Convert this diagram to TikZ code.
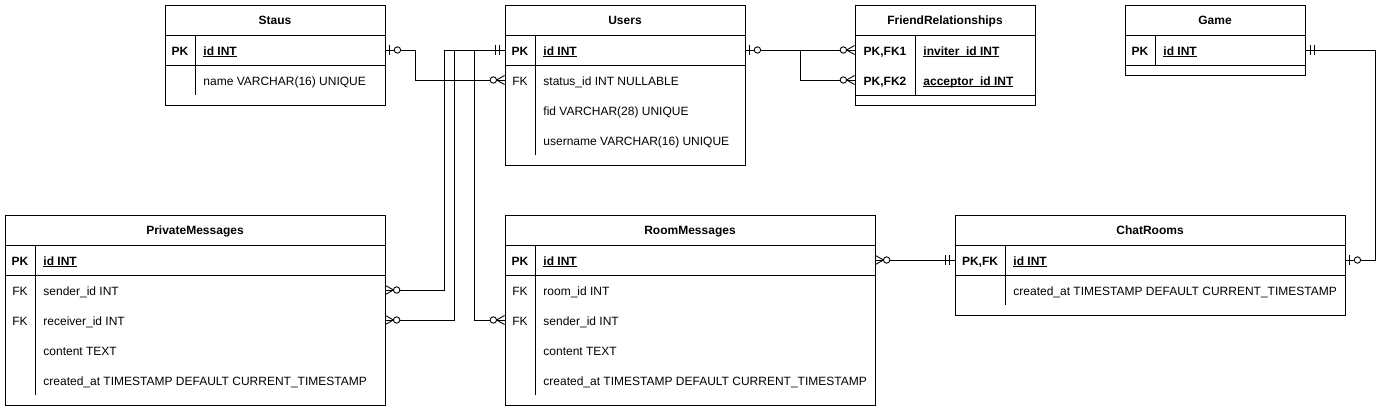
\documentclass[tikz,border=0pt]{standalone}
\usepackage{fontspec}
\setmainfont{Liberation Sans}
\usetikzlibrary{arrows.meta}

% underlined key field
\newcommand\keyline[1]{\setbox0\hbox{#1}\rlap{\rule[-2.3pt]{\wd0}{0.9pt}}\box0}

\begin{document}
\begin{tikzpicture}[x=1pt,y=-1pt,line width=0.9pt]

% Stili per tabelle e cardinalita
\tikzset{
  tablehead/.style={minimum height=30pt, inner sep=0pt, text height=10pt, text depth=0pt, font=\fontsize{12}{14}\selectfont\bfseries},
  keycell/.style={inner sep=0pt, text height=10.2pt, text depth=0pt, font=\fontsize{12}{14}\selectfont},
  field/.style={keycell, anchor=west},
  pkey/.style={font=\fontsize{12}{14}\selectfont\bfseries},
  mandone/.pic={\draw (5,-5) -- (5,5) (9,-5) -- (9,5);},
  zeroone/.pic={\draw (4,-5) -- (4,5); \draw[fill=white] (12,0) circle[radius=3.2pt];},
  zeromany/.pic={\draw (0,-4.5) -- (8,0) -- (0,4.5); \draw[fill=white] (11.2,0) circle[radius=3.2pt];}
}

\useasboundingbox (0,0) rectangle (1390,411);

% --- Staus ---
\node[tablehead, minimum width=220pt] (staus) at (275,20) {Staus};
\draw (165,5) rectangle (385,105) (165,35) -- (385,35) (165,65) -- (385,65) (195,35) -- (195,95);
\node[keycell, pkey] (staus-pk) at (180,50) {PK};
\node[field, pkey] (staus-id) at (203,50) {\keyline{id INT}};
\node[field] (staus-name) at (203,80) {name VARCHAR(16) UNIQUE};

% --- Users ---
\node[tablehead, minimum width=240pt] (users) at (625,20) {Users};
\draw (505,5) rectangle (745,165) (505,35) -- (745,35) (505,65) -- (745,65) (535,35) -- (535,155);
\node[keycell, pkey] (users-pk) at (520,50) {PK};
\node[keycell] (users-fk) at (520,80) {FK};
\node[field, pkey] (users-id) at (543,50) {\keyline{id INT}};
\node[field] (users-status) at (543,80) {status\_id INT NULLABLE};
\node[field] (users-fid) at (543,110) {fid VARCHAR(28) UNIQUE};
\node[field] (users-name) at (543,140) {username VARCHAR(16) UNIQUE};

% --- FriendRelationships ---
\node[tablehead, minimum width=180pt] (fr) at (945,20) {FriendRelationships};
\draw (855,5) rectangle (1035,105) (855,35) -- (1035,35) (855,95) -- (1035,95) (915,35) -- (915,95);
\node[keycell, pkey] (fr-k1) at (885,50) {PK,FK1};
\node[keycell, pkey] (fr-k2) at (885,80) {PK,FK2};
\node[field, pkey] (fr-inviter) at (923,50) {\keyline{inviter\_id INT}};
\node[field, pkey] (fr-acceptor) at (923,80) {\keyline{acceptor\_id INT}};

% --- Game ---
\node[tablehead, minimum width=180pt] (game) at (1215,20) {Game};
\draw (1125,5) rectangle (1305,75) (1125,35) -- (1305,35) (1125,65) -- (1305,65) (1155,35) -- (1155,65);
\node[keycell, pkey] (game-pk) at (1140,50) {PK};
\node[field, pkey] (game-id) at (1163,50) {\keyline{id INT}};

% --- PrivateMessages ---
\node[tablehead, minimum width=380pt] (pm) at (195,230) {PrivateMessages};
\draw (5,215) rectangle (385,405) (5,245) -- (385,245) (5,275) -- (385,275) (35,245) -- (35,395);
\node[keycell, pkey] (pm-pk) at (20,260) {PK};
\node[keycell] (pm-fk1) at (20,290) {FK};
\node[keycell] (pm-fk2) at (20,320) {FK};
\node[field, pkey] (pm-id) at (43,260) {\keyline{id INT}};
\node[field] (pm-sender) at (43,290) {sender\_id INT};
\node[field] (pm-receiver) at (43,320) {receiver\_id INT};
\node[field] (pm-content) at (43,350) {content TEXT};
\node[field] (pm-created) at (43,380) {created\_at TIMESTAMP DEFAULT CURRENT\_TIMESTAMP};

% --- RoomMessages ---
\node[tablehead, minimum width=370pt] (rm) at (690,230) {RoomMessages};
\draw (505,215) rectangle (875,405) (505,245) -- (875,245) (505,275) -- (875,275) (535,245) -- (535,395);
\node[keycell, pkey] (rm-pk) at (520,260) {PK};
\node[keycell] (rm-fk1) at (520,290) {FK};
\node[keycell] (rm-fk2) at (520,320) {FK};
\node[field, pkey] (rm-id) at (543,260) {\keyline{id INT}};
\node[field] (rm-room) at (543,290) {room\_id INT};
\node[field] (rm-sender) at (543,320) {sender\_id INT};
\node[field] (rm-content) at (543,350) {content TEXT};
\node[field] (rm-created) at (543,380) {created\_at TIMESTAMP DEFAULT CURRENT\_TIMESTAMP};

% --- ChatRooms ---
\node[tablehead, minimum width=390pt] (chat) at (1150,230) {ChatRooms};
\draw (955,215) rectangle (1345,315) (955,245) -- (1345,245) (955,275) -- (1345,275) (1005,245) -- (1005,305);
\node[keycell, pkey] (chat-pk) at (980,260) {PK,FK};
\node[field, pkey] (chat-id) at (1013,260) {\keyline{id INT}};
\node[field] (chat-created) at (1013,290) {created\_at TIMESTAMP DEFAULT CURRENT\_TIMESTAMP};

% --- Relazioni ---
\draw (staus.east |- staus-pk.west) -- ++(30,0) |- (users.west |- users-fk.west);
\draw (users.west |- users-pk.west) -- ++(-60,0) |- (pm.east |- pm-fk1.west);
\draw (users.west |- users-pk.west) -- ++(-50,0) |- (pm.east |- pm-fk2.west);
\draw (users.west |- users-pk.west) -- ++(-30,0) |- (rm.west |- rm-fk2.west);
\draw (users.east |- users-pk.west) -- (fr.west |- fr-k1.west);
\draw (users.east |- users-pk.west) -- ++(55,0) |- (fr.west |- fr-k2.west);
\draw (game.east |- game-pk.west) -- ++(70,0) |- (chat.east |- chat-pk.west);
\draw (rm.east |- rm-pk.west) -- (chat.west |- chat-pk.west);

% Cardinalita
\pic at (staus.east |- staus-pk.west) {zeroone};
\pic[rotate=180] at (users.west |- users-fk.west) {zeromany};
\pic[rotate=180] at (users.west |- users-pk.west) {mandone};
\pic at (pm.east |- pm-fk1.west) {zeromany};
\pic at (pm.east |- pm-fk2.west) {zeromany};
\pic[rotate=180] at (rm.west |- rm-fk2.west) {zeromany};
\pic at (users.east |- users-pk.west) {zeroone};
\pic[rotate=180] at (fr.west |- fr-k1.west) {zeromany};
\pic[rotate=180] at (fr.west |- fr-k2.west) {zeromany};
\pic at (game.east |- game-pk.west) {mandone};
\pic at (chat.east |- chat-pk.west) {zeroone};
\pic at (rm.east |- rm-pk.west) {zeromany};
\pic[rotate=180] at (chat.west |- chat-pk.west) {mandone};

\end{tikzpicture}
\end{document}
